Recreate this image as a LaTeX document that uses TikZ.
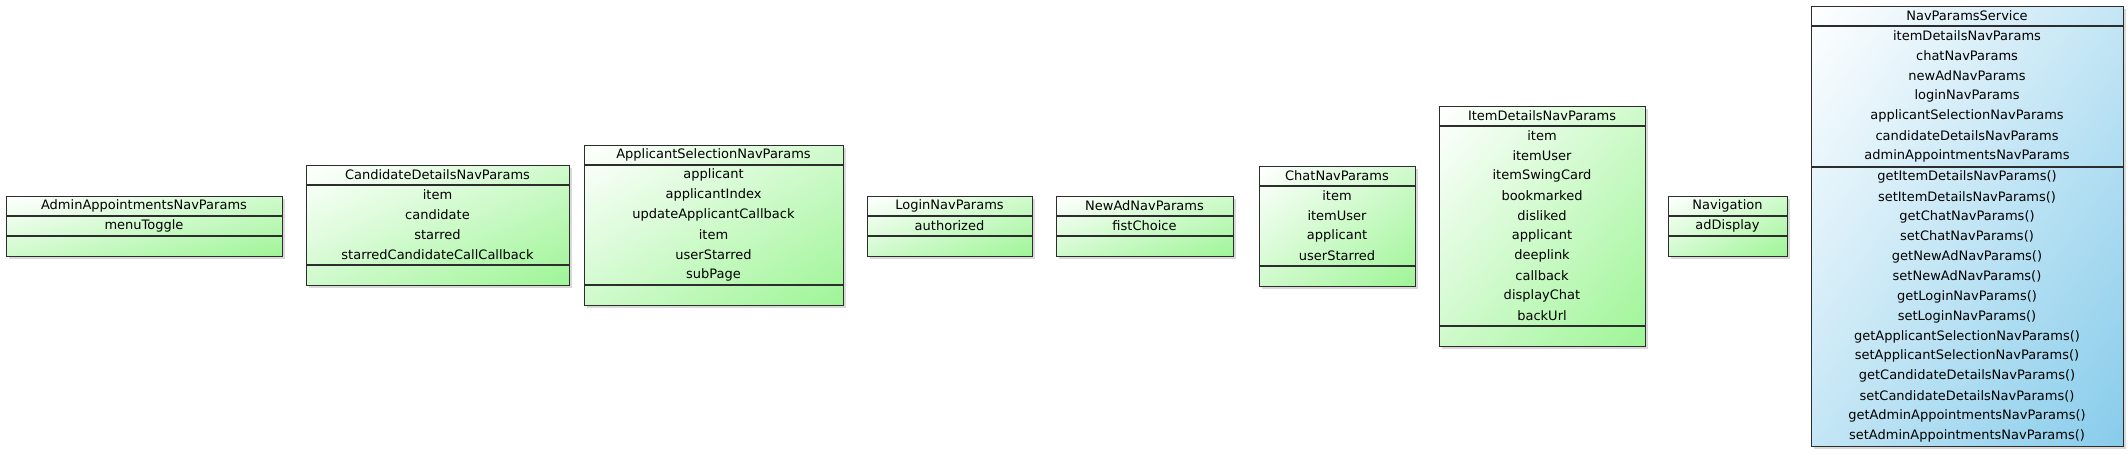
\documentclass[tikz,border=0pt]{standalone}
\usepackage{fontspec}
\setmainfont{DejaVu Sans}
\usetikzlibrary{shadows}
\definecolor{umlline}{RGB}{45,45,45}
% diagonal gradient: white at top-left corner -> colour at bottom-right corner
\pgfdeclarefunctionalshading{greendiag}{\pgfpoint{-25bp}{-25bp}}{\pgfpoint{25bp}{25bp}}{}{%
  sub 50 add 100 div
  dup 0 lt {pop 0} if dup 1 gt {pop 1} if
  dup dup
  -0.38 mul 1 add
  exch -0.04 mul 1 add
  3 -1 roll -0.41 mul 1 add
}
\pgfdeclarefunctionalshading{bluediag}{\pgfpoint{-25bp}{-25bp}}{\pgfpoint{25bp}{25bp}}{}{%
  sub 50 add 100 div
  dup 0 lt {pop 0} if dup 1 gt {pop 1} if
  dup dup
  -0.47 mul 1 add
  exch -0.2 mul 1 add
  3 -1 roll -0.08 mul 1 add
}
\tikzset{
  classbox/.style={rectangle, draw=umlline, line width=1.2pt, inner sep=0pt,
    drop shadow={shadow xshift=2.5pt, shadow yshift=-2.5pt, opacity=0.15, fill=black}},
  greenfill/.style={shading=greendiag},
  bluefill/.style={shading=bluediag},
  sepline/.style={draw=umlline, line width=1.2pt},
  rowtext/.style={inner sep=0pt, font=\fontsize{13}{15}\selectfont, anchor=center}
}
% #1 id, #2 L, #3 T, #4 R, #5 B, #6 second separator y, #7 fill style, #8 title, #9 attributes
\newcommand{\umlclass}[9]{%
  \pgfmathsetmacro\umlw{#4-#2}%
  \pgfmathsetmacro\umlh{#5-#3}%
  \node[classbox,#7,minimum width=\umlw pt,minimum height=\umlh pt,anchor=north west] (#1) at (#2,#3) {};
  \draw[sepline] (#2,#3+20) -- (#4,#3+20);
  \draw[sepline] (#2,#6) -- (#4,#6);
  \node[rowtext] (#1-title) at ({(#2+#4)/2},#3+10) {#8};
  \foreach \t [count=\i] in {#9} {
    \node[rowtext] (#1-a\i) at ({(#2+#4)/2},{#3+10+20*\i}) {\t};
  }
}
% #1 id, #2 L, #3 R, #4 y of separator, #5 methods
\newcommand{\umlmethods}[5]{%
  \foreach \t [count=\i] in {#5} {
    \node[rowtext] (#1-m\i) at ({(#2+#3)/2},{#4+10+19.93*(\i-1)}) {\t};
  }
}
\begin{document}
\begin{tikzpicture}[x=1pt,y=-1pt]
\useasboundingbox (0,0) rectangle (2128,453);

\umlclass{admin}{6}{196}{282}{256}{236}{greenfill}{AdminAppointmentsNavParams}{menuToggle}
\umlclass{cand}{306}{165}{569}{285}{265}{greenfill}{CandidateDetailsNavParams}{item,candidate,starred,starredCandidateCallCallback}
\umlclass{appl}{584}{145}{843}{305}{285}{greenfill}{ApplicantSelectionNavParams}{applicant,applicantIndex,updateApplicantCallback,item,userStarred,subPage}
\umlclass{login}{867}{196}{1032}{256}{236}{greenfill}{LoginNavParams}{authorized}
\umlclass{newad}{1056}{196}{1233}{256}{236}{greenfill}{NewAdNavParams}{fistChoice}
\umlclass{chat}{1259}{166}{1415}{286}{266}{greenfill}{ChatNavParams}{item,itemUser,applicant,userStarred}
\umlclass{itemd}{1439}{106}{1645}{346}{326}{greenfill}{ItemDetailsNavParams}{item,itemUser,itemSwingCard,bookmarked,disliked,applicant,deeplink,callback,displayChat,backUrl}
\umlclass{nav}{1668}{196}{1787}{256}{236}{greenfill}{Navigation}{adDisplay}
\umlclass{svc}{1811}{6}{2123}{446}{167}{bluefill}{NavParamsService}{itemDetailsNavParams,chatNavParams,newAdNavParams,loginNavParams,applicantSelectionNavParams,candidateDetailsNavParams,adminAppointmentsNavParams}
\umlmethods{svc}{1811}{2123}{167}{getItemDetailsNavParams(),setItemDetailsNavParams(),getChatNavParams(),setChatNavParams(),getNewAdNavParams(),setNewAdNavParams(),getLoginNavParams(),setLoginNavParams(),getApplicantSelectionNavParams(),setApplicantSelectionNavParams(),getCandidateDetailsNavParams(),setCandidateDetailsNavParams(),getAdminAppointmentsNavParams(),setAdminAppointmentsNavParams()}
\end{tikzpicture}
\end{document}
